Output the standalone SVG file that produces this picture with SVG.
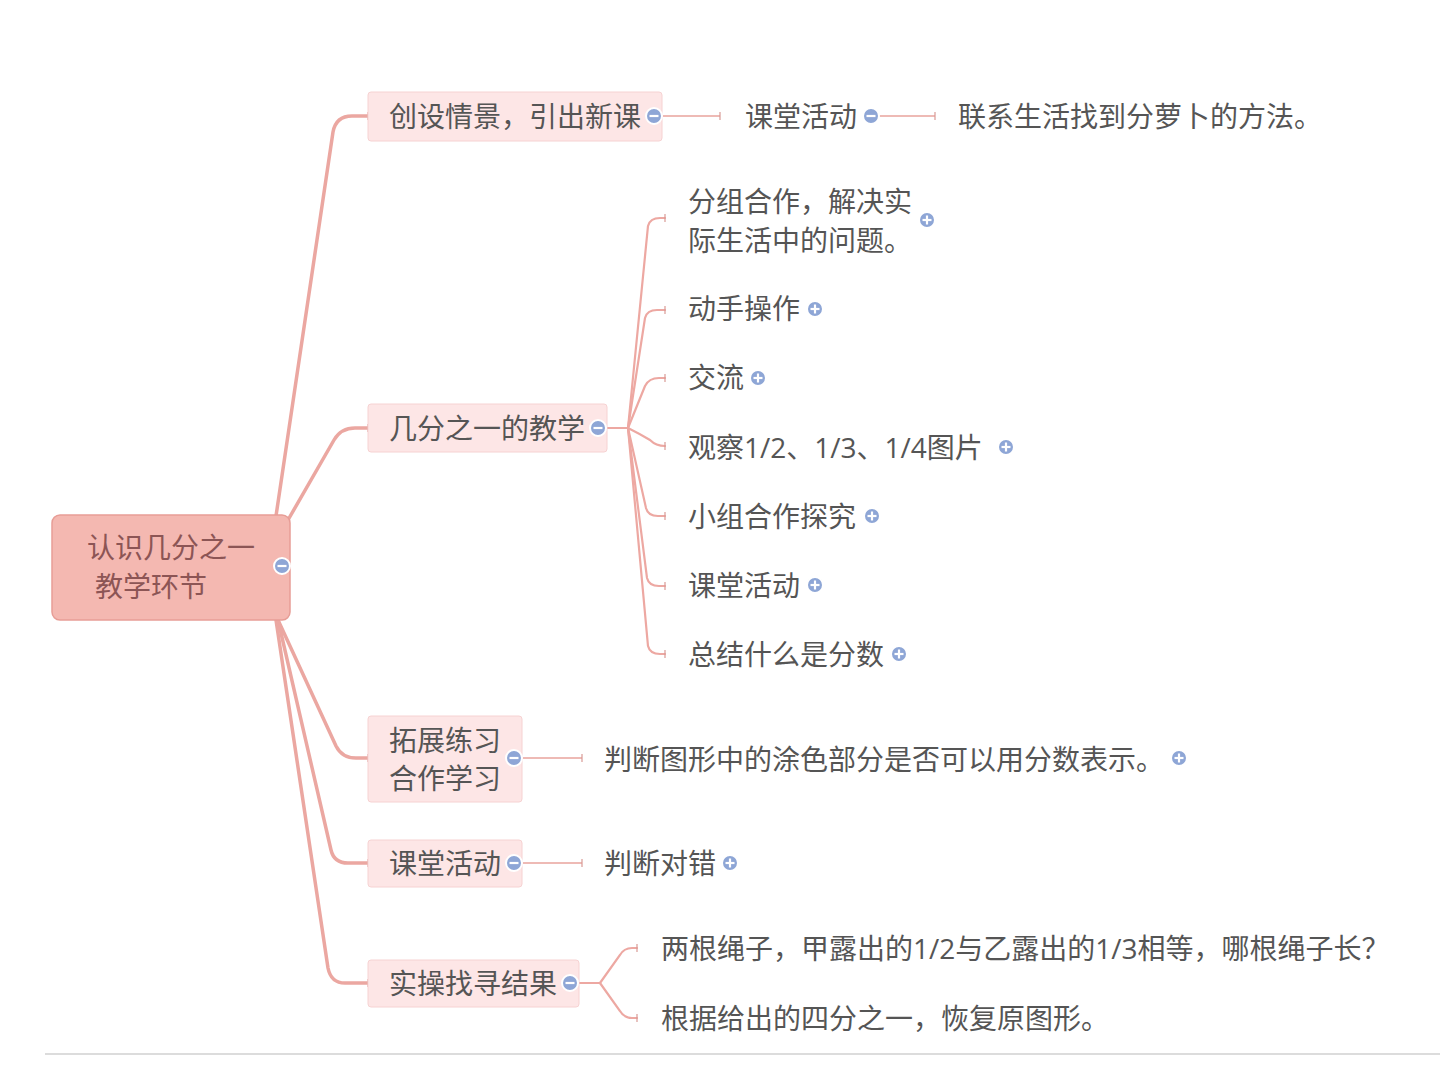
<svg xmlns="http://www.w3.org/2000/svg" width="1440" height="1080" viewBox="0 0 1440 1080">
<style>
.t{font-family:"Open Sans","Noto Sans CJK SC",sans-serif;font-size:28px;fill:#555}
.rt{font-family:"Open Sans","Noto Sans CJK SC",sans-serif;font-size:28px;fill:#8c5555}
.main{fill:none;stroke:#eba7a1;stroke-width:3.5;stroke-linecap:round;stroke-linejoin:round}
.sub{fill:none;stroke:#e9a39d;stroke-width:1.6}
.fan{fill:none;stroke:#eda8a2;stroke-width:2.2;stroke-linecap:round}
.n1{fill:#fde6e6;stroke:#f6d2d2;stroke-width:1}
.col{fill:#8ea6d6;stroke:#fff;stroke-width:2}
.sym{stroke:#fff;stroke-width:2.2;stroke-linecap:butt}
</style>
<defs>
<marker id="tk" markerWidth="4" markerHeight="10" refX="2" refY="5" markerUnits="userSpaceOnUse" orient="auto"><line x1="2" y1="1" x2="2" y2="9" stroke="#d99a95" stroke-width="1.2"/></marker>
<g id="minus"><circle r="8" class="col"/><line x1="-4.5" y1="0" x2="4.5" y2="0" class="sym"/></g>
<g id="plus"><circle r="8" class="col"/><line x1="-4.5" y1="0" x2="4.5" y2="0" class="sym" stroke-width="2"/><line x1="0" y1="-4.5" x2="0" y2="4.5" class="sym" stroke-width="2"/></g>
</defs>
<rect width="1440" height="1080" fill="#fff"/>
<g id="connectors">
<path class="main" d="M276,516 L333,132 Q336,116 352,116 L368,116" marker-end="url(#tk)"/>
<path class="main" d="M288,520 L334,440 Q341,428 355,428 L368,428" marker-end="url(#tk)"/>
<path class="main" d="M278,620 L336,746 Q342,758 356,758 L368,758" marker-end="url(#tk)"/>
<path class="main" d="M278,620 L331,850 Q334,863 348,863 L368,863" marker-end="url(#tk)"/>
<path class="main" d="M276,620 L328,968 Q331,983 345,983 L368,983" marker-end="url(#tk)"/>
<path class="sub" d="M662,116 L720,116" marker-end="url(#tk)"/>
<path class="sub" d="M879,116 L935,116" marker-end="url(#tk)"/>
<path class="fan" d="M607,428 L628,428"/>
<path class="fan" d="M628,428 L648,226 Q650,218 660,218 L665,218" marker-end="url(#tk)"/>
<path class="fan" d="M628,428 L645,318 Q647,310 657,310 L665,310" marker-end="url(#tk)"/>
<path class="fan" d="M628,428 L645,386 Q649,378 659,378 L665,378" marker-end="url(#tk)"/>
<path class="fan" d="M628,428 Q640,434 650,440 Q656,446 665,446" marker-end="url(#tk)"/>
<path class="fan" d="M628,428 L646,508 Q648,516 658,516 L665,516" marker-end="url(#tk)"/>
<path class="fan" d="M628,428 L647,578 Q649,586 659,586 L665,586" marker-end="url(#tk)"/>
<path class="fan" d="M628,428 L648,646 Q650,654 660,654 L665,654" marker-end="url(#tk)"/>
<path class="sub" d="M522,758 L582,758" marker-end="url(#tk)"/>
<path class="sub" d="M522,863 L582,863" marker-end="url(#tk)"/>
<path class="fan" d="M579,983 L600,983"/>
<path class="fan" d="M600,983 L620,955 Q624,948 632,948 L637,948" marker-end="url(#tk)"/>
<path class="fan" d="M600,983 L620,1011 Q624,1018 632,1018 L637,1018" marker-end="url(#tk)"/>
</g>
<g id="root">
<rect x="52" y="515" width="238" height="105" rx="8" fill="#f4b8b1" stroke="#e79d96" stroke-width="1.5"/>
<text class="rt" x="87" y="558">认识几分之一</text>
<text class="rt" x="95" y="597">教学环节</text>
<use href="#minus" x="282" y="566"/>
</g>
<g id="n-chuangshe">
<rect class="n1" x="368" y="92" width="294" height="49" rx="3"/>
<text class="t" x="389" y="127">创设情景，引出新课</text>
<use href="#minus" x="654" y="116"/>
</g>
<g id="n-ketang1">
<text class="t" x="745" y="127">课堂活动</text>
<use href="#minus" x="871" y="116"/>
</g>
<g id="n-lianxi">
<text class="t" x="958" y="127">联系生活找到分萝卜的方法。</text>
</g>
<g id="n-jifen">
<rect class="n1" x="368" y="404" width="239" height="48" rx="3"/>
<text class="t" x="389" y="439">几分之一的教学</text>
<use href="#minus" x="598" y="428"/>
</g>
<g id="n-fenzu">
<text class="t" x="688" y="212">分组合作，解决实</text>
<text class="t" x="688" y="251">际生活中的问题。</text>
<use href="#plus" x="927" y="220"/>
</g>
<g id="n-dongshou">
<text class="t" x="688" y="319">动手操作</text>
<use href="#plus" x="815" y="309"/>
</g>
<g id="n-jiaoliu">
<text class="t" x="688" y="388">交流</text>
<use href="#plus" x="758" y="378"/>
</g>
<g id="n-guancha">
<text class="t" x="688" y="458">观察1/2、1/3、1/4图片</text>
<use href="#plus" x="1006" y="447"/>
</g>
<g id="n-xiaozu">
<text class="t" x="688" y="527">小组合作探究</text>
<use href="#plus" x="872" y="516"/>
</g>
<g id="n-ketang2">
<text class="t" x="688" y="596">课堂活动</text>
<use href="#plus" x="815" y="585"/>
</g>
<g id="n-zongjie">
<text class="t" x="688" y="665">总结什么是分数</text>
<use href="#plus" x="899" y="654"/>
</g>
<g id="n-tuozhan">
<rect class="n1" x="368" y="716" width="154" height="86" rx="3"/>
<text class="t" x="389" y="751">拓展练习</text>
<text class="t" x="389" y="789">合作学习</text>
<use href="#minus" x="514" y="758"/>
</g>
<g id="n-panduan1">
<text class="t" x="604" y="770">判断图形中的涂色部分是否可以用分数表示。</text>
<use href="#plus" x="1179" y="758"/>
</g>
<g id="n-ketang3">
<rect class="n1" x="368" y="840" width="154" height="47" rx="3"/>
<text class="t" x="389" y="874">课堂活动</text>
<use href="#minus" x="514" y="863"/>
</g>
<g id="n-panduan2">
<text class="t" x="604" y="874">判断对错</text>
<use href="#plus" x="730" y="863"/>
</g>
<g id="n-shicao">
<rect class="n1" x="368" y="960" width="211" height="47" rx="3"/>
<text class="t" x="389" y="994">实操找寻结果</text>
<use href="#minus" x="570" y="983"/>
</g>
<g id="n-shengzi">
<text class="t" x="661" y="959">两根绳子，甲露出的1/2与乙露出的1/3相等，哪根绳子长？</text>
</g>
<g id="n-huifu">
<text class="t" x="661" y="1029">根据给出的四分之一，恢复原图形。</text>
</g>
<line x1="45" y1="1054" x2="1440" y2="1054" stroke="#dcdcdc" stroke-width="2"/>
</svg>
